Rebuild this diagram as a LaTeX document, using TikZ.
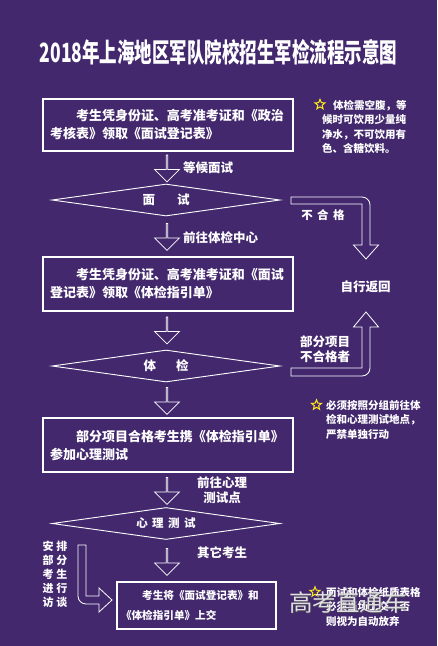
\documentclass[tikz,border=0pt]{standalone}
\usepackage{fontspec}
\setmainfont{Noto Sans CJK SC}
\usetikzlibrary{shapes.geometric,shapes.arrows,positioning}
\definecolor{bgpurple}{HTML}{43286E}
\definecolor{staryellow}{HTML}{FFE81A}
\newcommand\gap{\hspace{4.5pt}}

\begin{document}
\begin{tikzpicture}[x=1pt,y=-1pt,
    every node/.style={text=white,font=\bfseries},
    stepbox/.style={draw=white,line width=1.4pt,minimum width=250pt,minimum height=54pt,text width=236pt,align=left,inner sep=6pt,font=\bfseries\fontsize{13}{18}\selectfont},
    decision/.style={diamond,draw=white,line width=0.9pt,aspect=7,inner sep=1pt,minimum width=228pt,minimum height=32pt,font=\bfseries\fontsize{12.5}{14}\selectfont},
    downarrow/.style={single arrow,draw=white,line width=0.8pt,shape border rotate=270,single arrow head extend=5.5pt,minimum width=25pt,minimum height=27pt,inner sep=0pt},
    lbl/.style={inner sep=0pt,align=center,font=\bfseries\fontsize{12.5}{14.5}\selectfont},
    note/.style={anchor=north west,align=left,inner sep=0pt,font=\bfseries\fontsize{10.5}{14.5}\selectfont},
    starmark/.style={star,star points=5,star point ratio=2.3,draw=staryellow,line width=1pt,inner sep=0pt,minimum size=10.5pt},
    bentarrow/.style={draw=white,line width=0.8pt}]
  \fill[bgpurple] (0,0) rectangle (437,646);

  \node[font=\bfseries\fontsize{26.5}{30}\selectfont,xscale=0.66] (title) at (218.5,52) {2018年上海地区军队院校招生军检流程示意图};

  % main flow
  \node[stepbox,minimum height=52pt] (apply) at (168,125) {\hspace*{2em}考生凭身份证、高考准考证和《政治\\考核表》领取《面试登记表》};
  \node[downarrow] (arr1) at (167,168) {};
  \node[lbl,anchor=west] (wait) at (183,168) {等候面试};
  \node[decision] (interview) at (166,200) {面\hspace{22pt}试};
  \node[downarrow] (arr2) at (167,236.5) {};
  \node[lbl,anchor=west] (gocenter) at (183,238) {前往体检中心};
  \node[stepbox] (guide) at (168,284) {\hspace*{2em}考生凭身份证、高考准考证和《面试\\登记表》领取《体检指引单》};
  \node[downarrow] (arr3) at (167,330) {};
  \node[decision] (medical) at (166,366) {体\hspace{20pt}检};
  \node[downarrow] (arr4) at (167,400.5) {};
  \node[stepbox] (carry) at (168,445) {\hspace*{2em}部分项目合格考生携《体检指引单》\\参加心理测试};
  \node[downarrow] (arr5) at (167,490.5) {};
  \node[lbl] (gopsych) at (222,490) {前往心理\\测试点};
  \node[decision,font=\bfseries\fontsize{11.5}{14}\selectfont] (psych) at (166,523.5) {心\gap 理\gap 测\gap 试};
  \node[downarrow] (arr6) at (167,561.5) {};
  \node[lbl,anchor=west] (others) at (197,553) {其它考生};
  \node[stepbox,minimum width=159pt,minimum height=47pt,text width=151pt,inner sep=4pt,font=\bfseries\fontsize{10.6}{19.4}\selectfont] (submit) at (196.5,605.5) {\hspace*{2em}考生将《面试登记表》和\\《体检指引单》上交};

  % side branches
  \node[lbl] (back) at (365.5,287) {自行返回};
  \draw[bentarrow] (291,197) -- (362,197) arc[start angle=-90,end angle=0,radius=8] -- (370,245) -- (378.5,245) -- (366,259) -- (353.5,245) -- (362,245) -- (362,204) -- (291,204) -- cycle;
  \node[lbl,font=\bfseries\fontsize{11.5}{14}\selectfont] (fail) at (323,215) {不\gap 合\gap 格};
  \draw[bentarrow] (291,376) -- (362,376) arc[start angle=90,end angle=0,radius=8] -- (370,327) -- (378.5,327) -- (366,312) -- (353.5,327) -- (362,327) -- (362,368) -- (291,368) -- cycle;
  \node[lbl,font=\bfseries\fontsize{12.5}{15}\selectfont] (partfail) at (325,349.5) {部分项目\\不合格者};
  \draw[bentarrow] (78,545) -- (78,596) arc[start angle=180,end angle=90,radius=8] -- (99,604) -- (99,612) -- (112,600) -- (99,588) -- (99,596) -- (86,596) -- (86,545) -- cycle;
  \node[lbl,font=\bfseries\fontsize{11}{14}\selectfont] (talk) at (55,574) {安\hspace{3pt}排\\部\hspace{3pt}分\\考\hspace{3pt}生\\进\hspace{3pt}行\\访\hspace{3pt}谈};

  % notes
  \node[starmark] (star1) at (320,104.5) {};
  \node[note] (note1) at (322,100) {\hspace*{11pt}体检需空腹，等\\候时可饮用少量纯\\净水，不可饮用有\\色、含糖饮料。};
  \node[starmark] (star2) at (316.5,405) {};
  \node[note] (note2) at (326,400) {必须按照分组前往体\\检和心理测试地点，\\严禁单独行动};
  \node[starmark] (star3) at (315,592) {};
  \node[note] (note3) at (326,587) {面试和体检纸质表格\\必须当场上交，否\\则视为自动放弃};

  \node[text=black!70,opacity=0.7,font=\fontsize{23.5}{24}\selectfont] (markshadow) at (349,604) {高考直通车};
  \node[text=black!12,font=\fontsize{23.5}{24}\selectfont] (mark) at (348,603) {高考直通车};
\end{tikzpicture}
\end{document}
